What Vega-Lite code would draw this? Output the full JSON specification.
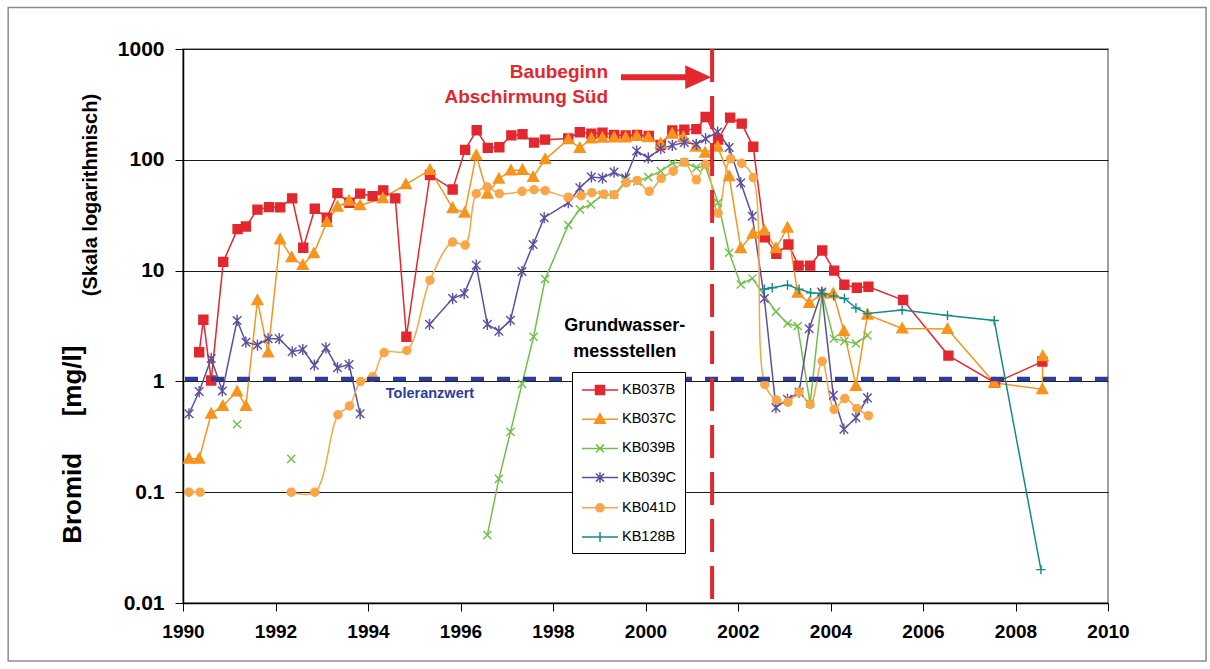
{
  "$schema": "https://vega.github.io/schema/vega-lite/v6.json",
  "width": 925,
  "height": 554,
  "autosize": {"type": "none"},
  "padding": {"left": 183, "top": 49, "right": 102, "bottom": 66},
  "background": "white",
  "config": {
    "font": "Liberation Sans",
    "view": {"stroke": "#808080", "strokeWidth": 1.5},
    "axis": {"labelFont": "Liberation Sans", "labelFontWeight": "bold", "labelColor": "#000", "domainColor": "#000", "tickColor": "#000", "domainWidth": 1.5, "tickWidth": 1, "labelFlush": false}
  },
  "datasets": {
    "bromid": [
      {"s":"KB037B","t":1990.35,"v":1.83,"g":1},{"s":"KB037B","t":1990.44,"v":3.6,"g":1},{"s":"KB037B","t":1990.61,"v":1.02,"g":1},{"s":"KB037B","t":1990.87,"v":12.0,"g":1},{"s":"KB037B","t":1991.18,"v":23.7,"g":1},{"s":"KB037B","t":1991.36,"v":25,"g":1},{"s":"KB037B","t":1991.61,"v":35.5,"g":1},{"s":"KB037B","t":1991.86,"v":37.4,"g":1},{"s":"KB037B","t":1992.10,"v":37.2,"g":1},{"s":"KB037B","t":1992.36,"v":44.9,"g":1},{"s":"KB037B","t":1992.60,"v":16.1,"g":1},{"s":"KB037B","t":1992.85,"v":36.2,"g":1},{"s":"KB037B","t":1993.11,"v":30,"g":1},{"s":"KB037B","t":1993.34,"v":50,"g":1},{"s":"KB037B","t":1993.60,"v":41,"g":1},{"s":"KB037B","t":1993.83,"v":49.5,"g":1},{"s":"KB037B","t":1994.10,"v":47,"g":1},{"s":"KB037B","t":1994.33,"v":53,"g":1},{"s":"KB037B","t":1994.59,"v":44.9,"g":1},{"s":"KB037B","t":1994.83,"v":2.53,"g":1},{"s":"KB037B","t":1995.34,"v":73,"g":1},{"s":"KB037B","t":1995.83,"v":54,"g":1},{"s":"KB037B","t":1996.10,"v":123,"g":1},{"s":"KB037B","t":1996.35,"v":185,"g":1},{"s":"KB037B","t":1996.59,"v":128,"g":1},{"s":"KB037B","t":1996.84,"v":130,"g":1},{"s":"KB037B","t":1997.10,"v":166,"g":1},{"s":"KB037B","t":1997.34,"v":170,"g":1},{"s":"KB037B","t":1997.59,"v":143,"g":1},{"s":"KB037B","t":1997.83,"v":152,"g":1},{"s":"KB037B","t":1998.33,"v":156,"g":1},{"s":"KB037B","t":1998.58,"v":177,"g":1},{"s":"KB037B","t":1998.83,"v":172,"g":1},{"s":"KB037B","t":1999.07,"v":176,"g":1},{"s":"KB037B","t":1999.32,"v":168,"g":1},{"s":"KB037B","t":1999.57,"v":166,"g":1},{"s":"KB037B","t":1999.82,"v":168,"g":1},{"s":"KB037B","t":2000.07,"v":164,"g":1},{"s":"KB037B","t":2000.33,"v":136,"g":1},{"s":"KB037B","t":2000.58,"v":184,"g":1},{"s":"KB037B","t":2000.84,"v":187,"g":1},{"s":"KB037B","t":2001.10,"v":189,"g":1},{"s":"KB037B","t":2001.30,"v":243,"g":1},{"s":"KB037B","t":2001.57,"v":152,"g":1},{"s":"KB037B","t":2001.83,"v":240,"g":1},{"s":"KB037B","t":2002.08,"v":212,"g":1},{"s":"KB037B","t":2002.33,"v":131,"g":1},{"s":"KB037B","t":2002.58,"v":20,"g":1},{"s":"KB037B","t":2002.83,"v":14.2,"g":1},{"s":"KB037B","t":2003.09,"v":17.2,"g":1},{"s":"KB037B","t":2003.31,"v":11.1,"g":1},{"s":"KB037B","t":2003.56,"v":11.1,"g":1},{"s":"KB037B","t":2003.82,"v":15.2,"g":1},{"s":"KB037B","t":2004.08,"v":10.0,"g":1},{"s":"KB037B","t":2004.30,"v":7.46,"g":1},{"s":"KB037B","t":2004.57,"v":7.0,"g":1},{"s":"KB037B","t":2004.82,"v":7.16,"g":1},{"s":"KB037B","t":2005.57,"v":5.42,"g":1},{"s":"KB037B","t":2006.55,"v":1.71,"g":1},{"s":"KB037B","t":2007.56,"v":0.97,"g":1},{"s":"KB037B","t":2008.58,"v":1.51,"g":1},

      {"s":"KB037C","t":1990.13,"v":0.2,"g":1},{"s":"KB037C","t":1990.35,"v":0.2,"g":1},{"s":"KB037C","t":1990.61,"v":0.51,"g":1},{"s":"KB037C","t":1990.86,"v":0.6,"g":1},{"s":"KB037C","t":1991.17,"v":0.81,"g":1},{"s":"KB037C","t":1991.36,"v":0.6,"g":1},{"s":"KB037C","t":1991.61,"v":5.4,"g":1},{"s":"KB037C","t":1991.84,"v":1.82,"g":1},{"s":"KB037C","t":1992.10,"v":19.1,"g":1},{"s":"KB037C","t":1992.35,"v":13.2,"g":1},{"s":"KB037C","t":1992.59,"v":11.2,"g":1},{"s":"KB037C","t":1992.83,"v":14.3,"g":1},{"s":"KB037C","t":1993.11,"v":27.4,"g":1},{"s":"KB037C","t":1993.34,"v":37.7,"g":1},{"s":"KB037C","t":1993.59,"v":42.7,"g":1},{"s":"KB037C","t":1993.83,"v":38.8,"g":1},{"s":"KB037C","t":1994.32,"v":45,"g":1},{"s":"KB037C","t":1994.82,"v":60,"g":1},{"s":"KB037C","t":1995.34,"v":81,"g":1},{"s":"KB037C","t":1995.83,"v":36.6,"g":1},{"s":"KB037C","t":1996.09,"v":33.3,"g":1},{"s":"KB037C","t":1996.34,"v":110,"g":1},{"s":"KB037C","t":1996.58,"v":49.4,"g":1},{"s":"KB037C","t":1996.83,"v":67.5,"g":1},{"s":"KB037C","t":1997.09,"v":80,"g":1},{"s":"KB037C","t":1997.34,"v":81,"g":1},{"s":"KB037C","t":1997.57,"v":70,"g":1},{"s":"KB037C","t":1997.83,"v":101,"g":1},{"s":"KB037C","t":1998.33,"v":153,"g":1},{"s":"KB037C","t":1998.58,"v":128,"g":1},{"s":"KB037C","t":1998.83,"v":156,"g":1},{"s":"KB037C","t":1999.07,"v":158,"g":1},{"s":"KB037C","t":1999.32,"v":159,"g":1},{"s":"KB037C","t":1999.57,"v":159,"g":1},{"s":"KB037C","t":1999.81,"v":164,"g":1},{"s":"KB037C","t":2000.06,"v":160,"g":1},{"s":"KB037C","t":2000.33,"v":140,"g":1},{"s":"KB037C","t":2000.58,"v":172,"g":1},{"s":"KB037C","t":2000.82,"v":160,"g":1},{"s":"KB037C","t":2001.09,"v":131,"g":1},{"s":"KB037C","t":2001.29,"v":116,"g":1},{"s":"KB037C","t":2001.56,"v":131,"g":1},{"s":"KB037C","t":2001.81,"v":71,"g":1},{"s":"KB037C","t":2002.06,"v":15.9,"g":1},{"s":"KB037C","t":2002.32,"v":21.5,"g":1},{"s":"KB037C","t":2002.57,"v":23,"g":1},{"s":"KB037C","t":2002.82,"v":15.9,"g":1},{"s":"KB037C","t":2003.07,"v":24.4,"g":1},{"s":"KB037C","t":2003.29,"v":6.3,"g":1},{"s":"KB037C","t":2003.54,"v":5.1,"g":1},{"s":"KB037C","t":2003.82,"v":6.2,"g":1},{"s":"KB037C","t":2004.06,"v":6.2,"g":1},{"s":"KB037C","t":2004.29,"v":2.84,"g":1},{"s":"KB037C","t":2004.55,"v":0.91,"g":1},{"s":"KB037C","t":2004.80,"v":4.0,"g":1},{"s":"KB037C","t":2005.55,"v":3.0,"g":1},{"s":"KB037C","t":2006.53,"v":2.97,"g":1},{"s":"KB037C","t":2007.54,"v":0.97,"g":1},{"s":"KB037C","t":2008.58,"v":0.85,"g":1},{"s":"KB037C","t":2008.59,"v":1.69,"g":1},

      {"s":"KB039B","t":1991.17,"v":0.41,"g":1},{"s":"KB039B","t":1992.34,"v":0.2,"g":2},
      {"s":"KB039B","t":1996.58,"v":0.041,"g":3},{"s":"KB039B","t":1996.83,"v":0.132,"g":3},{"s":"KB039B","t":1997.08,"v":0.35,"g":3},{"s":"KB039B","t":1997.33,"v":0.95,"g":3},{"s":"KB039B","t":1997.58,"v":2.53,"g":3},{"s":"KB039B","t":1997.83,"v":8.4,"g":3},{"s":"KB039B","t":1998.33,"v":25.8,"g":3},{"s":"KB039B","t":1998.58,"v":35.7,"g":3},{"s":"KB039B","t":1998.82,"v":39.6,"g":3},{"s":"KB039B","t":1999.07,"v":48.4,"g":3},{"s":"KB039B","t":1999.32,"v":48.4,"g":3},{"s":"KB039B","t":1999.57,"v":63.8,"g":3},{"s":"KB039B","t":1999.82,"v":63.8,"g":3},{"s":"KB039B","t":2000.06,"v":69.8,"g":3},{"s":"KB039B","t":2000.33,"v":79,"g":3},{"s":"KB039B","t":2000.58,"v":93,"g":3},{"s":"KB039B","t":2000.84,"v":95,"g":3},{"s":"KB039B","t":2001.10,"v":85,"g":3},{"s":"KB039B","t":2001.29,"v":88,"g":3},{"s":"KB039B","t":2001.57,"v":41,"g":3},{"s":"KB039B","t":2001.81,"v":14.5,"g":3},{"s":"KB039B","t":2002.06,"v":7.5,"g":3},{"s":"KB039B","t":2002.31,"v":8.5,"g":3},{"s":"KB039B","t":2002.82,"v":4.26,"g":3},{"s":"KB039B","t":2003.07,"v":3.33,"g":3},{"s":"KB039B","t":2003.29,"v":3.16,"g":3},{"s":"KB039B","t":2003.56,"v":0.63,"g":3},{"s":"KB039B","t":2003.82,"v":6.2,"g":3},{"s":"KB039B","t":2004.07,"v":2.43,"g":3},{"s":"KB039B","t":2004.30,"v":2.31,"g":3},{"s":"KB039B","t":2004.55,"v":2.2,"g":3},{"s":"KB039B","t":2004.80,"v":2.6,"g":3},

      {"s":"KB039C","t":1990.13,"v":0.51,"g":1},{"s":"KB039C","t":1990.35,"v":0.81,"g":1},{"s":"KB039C","t":1990.61,"v":1.61,"g":1},{"s":"KB039C","t":1990.85,"v":0.82,"g":1},{"s":"KB039C","t":1991.17,"v":3.55,"g":1},{"s":"KB039C","t":1991.36,"v":2.26,"g":1},{"s":"KB039C","t":1991.61,"v":2.13,"g":1},{"s":"KB039C","t":1991.84,"v":2.43,"g":1},{"s":"KB039C","t":1992.08,"v":2.43,"g":1},{"s":"KB039C","t":1992.36,"v":1.85,"g":1},{"s":"KB039C","t":1992.59,"v":1.94,"g":1},{"s":"KB039C","t":1992.84,"v":1.40,"g":1},{"s":"KB039C","t":1993.09,"v":2.01,"g":1},{"s":"KB039C","t":1993.34,"v":1.33,"g":1},{"s":"KB039C","t":1993.59,"v":1.42,"g":1},{"s":"KB039C","t":1993.83,"v":0.51,"g":1},
      {"s":"KB039C","t":1995.33,"v":3.27,"g":2},{"s":"KB039C","t":1995.83,"v":5.6,"g":2},{"s":"KB039C","t":1996.08,"v":6.2,"g":2},{"s":"KB039C","t":1996.34,"v":11.2,"g":2},{"s":"KB039C","t":1996.58,"v":3.27,"g":2},{"s":"KB039C","t":1996.83,"v":2.84,"g":2},{"s":"KB039C","t":1997.08,"v":3.57,"g":2},{"s":"KB039C","t":1997.33,"v":9.8,"g":2},{"s":"KB039C","t":1997.57,"v":17.2,"g":2},{"s":"KB039C","t":1997.81,"v":30,"g":2},{"s":"KB039C","t":1998.33,"v":41,"g":2},{"s":"KB039C","t":1998.58,"v":56,"g":2},{"s":"KB039C","t":1998.83,"v":70,"g":2},{"s":"KB039C","t":1999.07,"v":68.4,"g":2},{"s":"KB039C","t":1999.32,"v":77.4,"g":2},{"s":"KB039C","t":1999.57,"v":68.4,"g":2},{"s":"KB039C","t":1999.81,"v":120,"g":2},{"s":"KB039C","t":2000.06,"v":104,"g":2},{"s":"KB039C","t":2000.33,"v":126,"g":2},{"s":"KB039C","t":2000.58,"v":135,"g":2},{"s":"KB039C","t":2000.84,"v":143,"g":2},{"s":"KB039C","t":2001.10,"v":138,"g":2},{"s":"KB039C","t":2001.30,"v":155,"g":2},{"s":"KB039C","t":2001.56,"v":178,"g":2},{"s":"KB039C","t":2001.81,"v":129,"g":2},{"s":"KB039C","t":2002.06,"v":62,"g":2},{"s":"KB039C","t":2002.31,"v":31,"g":2},{"s":"KB039C","t":2002.57,"v":5.6,"g":2},{"s":"KB039C","t":2002.82,"v":0.58,"g":2},{"s":"KB039C","t":2003.07,"v":0.69,"g":2},{"s":"KB039C","t":2003.32,"v":0.80,"g":2},{"s":"KB039C","t":2003.54,"v":2.99,"g":2},{"s":"KB039C","t":2003.81,"v":6.4,"g":2},{"s":"KB039C","t":2004.06,"v":0.75,"g":2},{"s":"KB039C","t":2004.29,"v":0.37,"g":2},{"s":"KB039C","t":2004.55,"v":0.47,"g":2},{"s":"KB039C","t":2004.80,"v":0.71,"g":2},

      {"s":"KB041D","t":1990.13,"v":0.1,"g":1},{"s":"KB041D","t":1990.37,"v":0.1,"g":1},
      {"s":"KB041D","t":1992.34,"v":0.1,"g":2},{"s":"KB041D","t":1992.85,"v":0.1,"g":2},{"s":"KB041D","t":1993.35,"v":0.5,"g":2},{"s":"KB041D","t":1993.60,"v":0.6,"g":2},{"s":"KB041D","t":1993.84,"v":1.0,"g":2},{"s":"KB041D","t":1994.10,"v":1.1,"g":2},{"s":"KB041D","t":1994.35,"v":1.82,"g":2},{"s":"KB041D","t":1994.84,"v":1.9,"g":2},{"s":"KB041D","t":1995.34,"v":8.2,"g":2},{"s":"KB041D","t":1995.83,"v":18.1,"g":2},{"s":"KB041D","t":1996.10,"v":17,"g":2},{"s":"KB041D","t":1996.34,"v":49.4,"g":2},{"s":"KB041D","t":1996.58,"v":56.7,"g":2},{"s":"KB041D","t":1996.84,"v":49.4,"g":2},{"s":"KB041D","t":1997.33,"v":51.9,"g":2},{"s":"KB041D","t":1997.59,"v":53.7,"g":2},{"s":"KB041D","t":1997.83,"v":52.6,"g":2},{"s":"KB041D","t":1998.33,"v":46,"g":2},{"s":"KB041D","t":1998.61,"v":47.4,"g":2},{"s":"KB041D","t":1998.84,"v":50.5,"g":2},{"s":"KB041D","t":1999.10,"v":49,"g":2},{"s":"KB041D","t":1999.32,"v":48.4,"g":2},{"s":"KB041D","t":1999.58,"v":62,"g":2},{"s":"KB041D","t":1999.82,"v":65.2,"g":2},{"s":"KB041D","t":2000.08,"v":52,"g":2},{"s":"KB041D","t":2000.34,"v":68,"g":2},{"s":"KB041D","t":2000.60,"v":79,"g":2},{"s":"KB041D","t":2000.84,"v":95,"g":2},{"s":"KB041D","t":2001.10,"v":66,"g":2},{"s":"KB041D","t":2001.30,"v":91,"g":2},{"s":"KB041D","t":2001.57,"v":33,"g":2},{"s":"KB041D","t":2001.84,"v":102,"g":2},{"s":"KB041D","t":2002.08,"v":93,"g":2},{"s":"KB041D","t":2002.33,"v":69,"g":2},{"s":"KB041D","t":2002.58,"v":0.94,"g":2},{"s":"KB041D","t":2002.83,"v":0.68,"g":2},{"s":"KB041D","t":2003.08,"v":0.65,"g":2},{"s":"KB041D","t":2003.32,"v":0.8,"g":2},{"s":"KB041D","t":2003.56,"v":0.62,"g":2},{"s":"KB041D","t":2003.82,"v":1.52,"g":2},{"s":"KB041D","t":2004.08,"v":0.56,"g":2},{"s":"KB041D","t":2004.31,"v":0.70,"g":2},{"s":"KB041D","t":2004.57,"v":0.57,"g":2},{"s":"KB041D","t":2004.82,"v":0.49,"g":2},

      {"s":"KB128B","t":2002.57,"v":6.8,"g":1},{"s":"KB128B","t":2002.74,"v":7.0,"g":1},{"s":"KB128B","t":2003.07,"v":7.4,"g":1},{"s":"KB128B","t":2003.32,"v":6.8,"g":1},{"s":"KB128B","t":2003.57,"v":6.3,"g":1},{"s":"KB128B","t":2003.82,"v":6.2,"g":1},{"s":"KB128B","t":2004.07,"v":5.9,"g":1},{"s":"KB128B","t":2004.30,"v":5.6,"g":1},{"s":"KB128B","t":2004.55,"v":4.6,"g":1},{"s":"KB128B","t":2004.80,"v":4.1,"g":1},{"s":"KB128B","t":2005.55,"v":4.4,"g":1},{"s":"KB128B","t":2006.53,"v":3.94,"g":1},{"s":"KB128B","t":2007.54,"v":3.55,"g":1},{"s":"KB128B","t":2008.55,"v":0.02,"g":1}
    ]
  },
  "layer": [
    {
      "data": {"name": "bromid"},
      "transform": [{"filter": "datum.s !== 'KB041D'"}],
      "mark": {"type": "line", "strokeWidth": 1.5},
      "encoding": {
        "x": {"field": "t", "type": "quantitative", "scale": {"domain": [1990, 2010], "nice": false, "zero": false},
              "axis": {"title": null, "values": [1990,1992,1994,1996,1998,2000,2002,2004,2006,2008,2010], "format": "d", "grid": false, "tickSize": 8, "labelPadding": 11, "labelFontSize": 19}},
        "y": {"field": "v", "type": "quantitative", "scale": {"type": "log", "domain": [0.01, 1000], "nice": false},
              "axis": {"title": null, "values": [0.01,0.1,1,10,100,1000], "format": "~g", "grid": true, "gridColor": "#1a1a1a", "gridWidth": 1, "gridOpacity": 1, "tickSize": 8, "labelPadding": 11, "labelFontSize": 21}},
        "color": {"field": "s", "type": "nominal", "scale": {"domain": ["KB037B","KB037C","KB039B","KB039C","KB041D","KB128B"], "range": ["#e2272e","#f7941e","#71bf4b","#5b4f9f","#f9a548","#138a8a"]}},
        "detail": {"field": "g", "type": "nominal"}
      }
    },
    {
      "data": {"name": "bromid"},
      "transform": [{"filter": "datum.s === 'KB041D'"}],
      "mark": {"type": "line", "strokeWidth": 1.5, "interpolate": "catmull-rom"},
      "encoding": {
        "x": {"field": "t", "type": "quantitative"},
        "y": {"field": "v", "type": "quantitative"},
        "color": {"field": "s", "type": "nominal"},
        "detail": {"field": "g", "type": "nominal"}
      }
    },
    {
      "data": {"name": "bromid"},
      "mark": {"type": "point", "filled": true, "opacity": 1, "strokeWidth": 1.4, "size": 81,
        "shape": {"expr": "datum.s === 'KB037B' ? 'M-1,-1H1V1H-1Z' : datum.s === 'KB037C' ? 'M0,-1.25L1.2,0.95H-1.2Z' : datum.s === 'KB039B' ? 'M-0.9,-0.9L0.9,0.9M-0.9,0.9L0.9,-0.9' : datum.s === 'KB039C' ? 'M-0.95,-0.95L0.95,0.95M-0.95,0.95L0.95,-0.95M0,-1.25L0,1.25' : datum.s === 'KB041D' ? 'M0.9,0A0.9,0.9 0 1 1 -0.9,0A0.9,0.9 0 1 1 0.9,0Z' : 'M-1.05,0L1.05,0M0,-1.05L0,1.05'"},
        "stroke": {"expr": "scale('color', datum.s)"}},
      "encoding": {
        "x": {"field": "t", "type": "quantitative"},
        "y": {"field": "v", "type": "quantitative"},
        "color": {"field": "s", "type": "nominal",
          "legend": {"orient": "none", "legendX": 389, "legendY": 323, "title": null, "strokeColor": "#000", "fillColor": "#fff",
            "padding": 8, "symbolSize": 324, "symbolStrokeWidth": 1.5, "symbolOffset": 10, "labelOffset": 12,
            "labelFont": "Liberation Sans", "labelFontSize": 14.5, "labelColor": "#000", "rowPadding": 11.2, "labelLimit": 200}}
      }
    },
    {
      "data": {"name": "bromid"},
      "transform": [{"filter": "false"}],
      "mark": {"type": "point", "filled": true, "opacity": 1},
      "encoding": {
        "x": {"field": "t", "type": "quantitative"},
        "y": {"field": "v", "type": "quantitative"},
        "color": {"field": "s", "type": "nominal"},
        "shape": {"field": "s", "type": "nominal", "scale": {"domain": ["KB037B","KB037C","KB039B","KB039C","KB041D","KB128B"],
          "range": ["M-2,0H2M-0.5,-0.5H0.5V0.5H-0.5Z","M-2,0H2M0,-0.6L0.6,0.45H-0.6Z","M-2,0H2M-0.45,-0.45L0.45,0.45M-0.45,0.45L0.45,-0.45","M-2,0H2M-0.45,-0.45L0.45,0.45M-0.45,0.45L0.45,-0.45M0,-0.6V0.6","M-2,0H2M0.45,0A0.45,0.45 0 1 1 -0.45,0A0.45,0.45 0 1 1 0.45,0Z","M-2,0H2M0,-0.55V0.55"]}}
      }
    },
    {
      "data": {"values": [{}]},
      "mark": {"type": "rule", "color": "#2e3d98", "strokeWidth": 4.5, "strokeDash": [13, 13]},
      "encoding": {"y": {"datum": 1.05}}
    },
    {
      "data": {"values": [{}]},
      "mark": {"type": "rule", "color": "#e2272e", "strokeWidth": 4, "strokeDash": [33, 14]},
      "encoding": {"x": {"datum": 2001.44}}
    },
    {
      "data": {"values": [{}]},
      "mark": {"type": "rule", "color": "#e2272e", "strokeWidth": 6},
      "encoding": {"x": {"datum": 1999.47}, "x2": {"datum": 2000.95}, "y": {"datum": 557}}
    },
    {
      "data": {"values": [{}]},
      "mark": {"type": "point", "shape": "M-1,-0.92L1,0L-1,0.92Z", "size": 676, "filled": true, "opacity": 1, "color": "#e2272e"},
      "encoding": {"x": {"datum": 2001.14}, "y": {"datum": 557}}
    },
    {
      "data": {"values": [{"label": "Baubeginn"}]},
      "mark": {"type": "text", "align": "right", "baseline": "middle", "fontSize": 19, "fontWeight": "bold", "color": "#e2272e"},
      "encoding": {"x": {"datum": 1999.19}, "y": {"datum": 620}, "text": {"field": "label"}}
    },
    {
      "data": {"values": [{"label": "Abschirmung Süd"}]},
      "mark": {"type": "text", "align": "right", "baseline": "middle", "fontSize": 19, "fontWeight": "bold", "color": "#e2272e"},
      "encoding": {"x": {"datum": 1999.19}, "y": {"datum": 369}, "text": {"field": "label"}}
    },
    {
      "data": {"values": [{"label": "Toleranzwert"}]},
      "mark": {"type": "text", "align": "center", "baseline": "middle", "fontSize": 14.5, "fontWeight": "bold", "color": "#2e3d98"},
      "encoding": {"x": {"datum": 1995.34}, "y": {"datum": 0.77}, "text": {"field": "label"}}
    },
    {
      "data": {"values": [{"label": "Grundwasser-"}]},
      "mark": {"type": "text", "align": "center", "baseline": "middle", "fontSize": 18, "fontWeight": "bold", "color": "#000"},
      "encoding": {"x": {"datum": 1999.55}, "y": {"datum": 3.16}, "text": {"field": "label"}}
    },
    {
      "data": {"values": [{"label": "messstellen"}]},
      "mark": {"type": "text", "align": "center", "baseline": "middle", "fontSize": 18, "fontWeight": "bold", "color": "#000"},
      "encoding": {"x": {"datum": 1999.55}, "y": {"datum": 1.84}, "text": {"field": "label"}}
    },
    {
      "data": {"values": [{"label": "Bromid"}]},
      "mark": {"type": "text", "align": "center", "baseline": "middle", "angle": 270, "fontSize": 26, "fontWeight": "bold", "color": "#000"},
      "encoding": {"x": {"datum": 1987.62}, "y": {"datum": 0.088}, "text": {"field": "label"}}
    },
    {
      "data": {"values": [{"label": "[mg/l]"}]},
      "mark": {"type": "text", "align": "center", "baseline": "middle", "angle": 270, "fontSize": 26, "fontWeight": "bold", "color": "#000"},
      "encoding": {"x": {"datum": 1987.62}, "y": {"datum": 1.01}, "text": {"field": "label"}}
    },
    {
      "data": {"values": [{"label": "(Skala logarithmisch)"}]},
      "mark": {"type": "text", "align": "center", "baseline": "middle", "angle": 270, "fontSize": 20, "fontWeight": "bold", "color": "#000"},
      "encoding": {"x": {"datum": 1988.0}, "y": {"datum": 48.1}, "text": {"field": "label"}}
    },
    {
      "data": {"values": [{}]},
      "mark": {"type": "rect", "filled": false, "stroke": "#8c8c8c", "strokeWidth": 1.5},
      "encoding": {"x": {"datum": 1986.22}, "x2": {"datum": 2012.12}, "y": {"datum": 2368}, "y2": {"datum": 0.003}}
    }
  ]
}
